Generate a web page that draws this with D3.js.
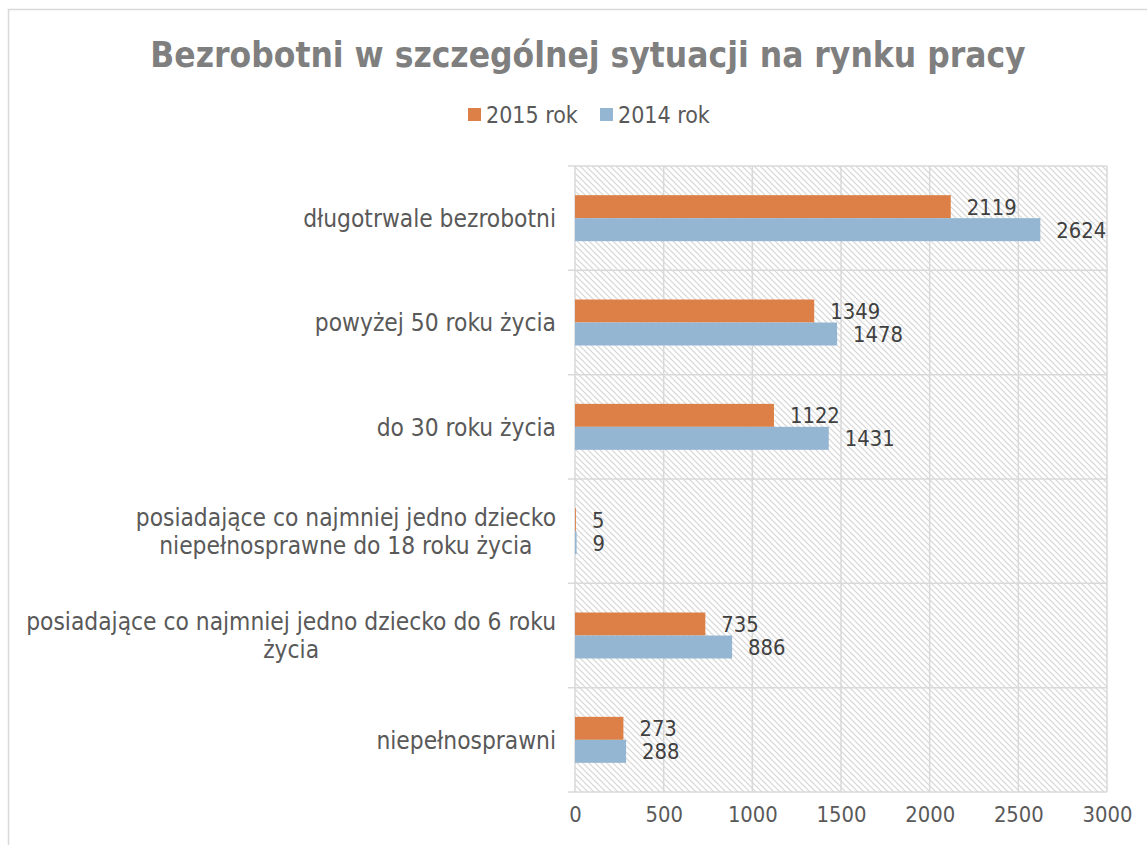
<!DOCTYPE html>
<html>
<head>
<meta charset="utf-8">
<script src="https://cdn.jsdelivr.net/npm/d3@7"></script>
<style>
  html, body { margin: 0; padding: 0; background: #fff; }
  svg { display: block; }
  text { font-family: "DejaVu Sans Condensed", "DejaVu Sans", sans-serif; font-stretch: condensed; }
</style>
</head>
<body>
<svg id="chart" width="1147" height="845"></svg>
<script>
const title = "Bezrobotni w szczególnej sytuacji na rynku pracy";
const categories = [
  ["długotrwale bezrobotni"],
  ["powyżej 50 roku życia"],
  ["do 30 roku życia"],
  ["posiadające co najmniej jedno dziecko", "niepełnosprawne do 18 roku życia"],
  ["posiadające co najmniej jedno dziecko do 6 roku", "życia"],
  ["niepełnosprawni"]
];
const seriesNames = ["2015 rok", "2014 rok"];
const values2015 = [2119, 1349, 1122, 5, 735, 273];
const values2014 = [2624, 1478, 1431, 9, 886, 288];
const xTicks = [0, 500, 1000, 1500, 2000, 2500, 3000];
const colors = ["#DD8047", "#94B6D2"];

const svg = d3.select("#chart");
const W = 1147, H = 845;
const plot = { left: 575, right: 1107, top: 166, bottom: 792 };
const catFont = 24.3, numFont = 21.8, legFont = 23;

// outer frame
svg.append("rect").attr("x", 8.5).attr("y", 9.5).attr("width", W + 20).attr("height", H + 20)
  .attr("fill", "#fff").attr("stroke", "#d9d9d9").attr("stroke-width", 1.5);

// hatch pattern
const defs = svg.append("defs");
const pat = defs.append("pattern").attr("id", "hatch").attr("patternUnits", "userSpaceOnUse")
  .attr("width", 6).attr("height", 6);
pat.append("rect").attr("width", 6).attr("height", 6).attr("fill", "#fff");
pat.append("path").attr("d", "M-1,-1 L7,7 M-1,5 L1,7 M5,-1 L7,1")
  .attr("stroke", "#d6d6d6").attr("stroke-width", 1.2);

const catKeys = categories.map((c, i) => i);
const y = d3.scaleBand().domain(catKeys).range([plot.top, plot.bottom]).padding(0);
const x = d3.scaleLinear().domain([0, 3000]).range([plot.left, plot.right]);
const bw = y.bandwidth();
const ySub = d3.scaleBand().domain(seriesNames).range([bw / 2 - 23, bw / 2 + 23]).padding(0);

svg.append("rect").attr("x", plot.left).attr("y", plot.top)
  .attr("width", plot.right - plot.left).attr("height", plot.bottom - plot.top)
  .attr("fill", "url(#hatch)");

// vertical gridlines
svg.append("g").selectAll("line").data(xTicks).join("line")
  .attr("x1", d => x(d)).attr("x2", d => x(d))
  .attr("y1", plot.top).attr("y2", plot.bottom)
  .attr("stroke", "#d9d9d9").attr("stroke-width", 1.5);

// horizontal category separators (with ticks extending left)
const seps = catKeys.map(k => y(k)).concat([plot.bottom]);
svg.append("g").selectAll("line").data(seps).join("line")
  .attr("x1", plot.left - 7).attr("x2", plot.right)
  .attr("y1", d => d).attr("y2", d => d)
  .attr("stroke", "#d9d9d9").attr("stroke-width", 1.5);

// x axis tick labels
const xAxis = d3.axisBottom(x).tickValues(xTicks).tickSize(0).tickPadding(0).tickFormat(d3.format("d"));
const gx = svg.append("g").attr("transform", `translate(0,${plot.bottom + 15})`).call(xAxis);
gx.select(".domain").remove();
gx.selectAll("text").attr("font-size", numFont).attr("fill", "#595959")
  .attr("dy", "0.71em")
  .style("font-family", '"DejaVu Sans Condensed", "DejaVu Sans", sans-serif');

// bars
const data = catKeys.map(i => ({ i, vals: [values2015[i], values2014[i]] }));
const groups = svg.append("g").selectAll("g").data(data).join("g")
  .attr("transform", d => `translate(0,${y(d.i)})`);
groups.selectAll("rect").data(d => d.vals.map((v, j) => ({ v, s: seriesNames[j], j }))).join("rect")
  .attr("x", x(0)).attr("y", d => ySub(d.s))
  .attr("width", d => x(d.v) - x(0)).attr("height", ySub.bandwidth())
  .attr("fill", d => colors[d.j]);
groups.selectAll("text").data(d => d.vals.map((v, j) => ({ v, s: seriesNames[j], j }))).join("text")
  .attr("x", d => x(d.v) + 16).attr("y", d => ySub(d.s) + ySub.bandwidth() / 2)
  .attr("dy", "0.36em").attr("font-size", numFont).attr("fill", "#404040")
  .text(d => d.v);

// category labels
const labelX = 556;
categories.forEach((lines, i) => {
  const cy = y(i) + bw / 2;
  const lh = 28;
  const g = svg.append("text").attr("font-size", catFont).attr("fill", "#595959");
  if (lines.length === 1) {
    g.attr("x", labelX).attr("y", cy).attr("dy", "0.36em").attr("text-anchor", "end").text(lines[0]);
  } else {
    const tmp = svg.append("text").attr("font-size", catFont).text(lines.reduce((a, b) => a.length > b.length ? a : b));
    const wMax = tmp.node().getComputedTextLength();
    tmp.remove();
    const cx = labelX - wMax / 2;
    lines.forEach((ln, k) => {
      g.append("tspan").attr("x", cx).attr("text-anchor", "middle")
        .attr("y", cy + (k - (lines.length - 1) / 2) * lh).attr("dy", "0.36em").text(ln);
    });
  }
});

// title
svg.append("text").attr("x", 588).attr("y", 67).attr("text-anchor", "middle")
  .attr("font-size", 35).attr("font-weight", "bold").attr("fill", "#7f7f7f").text(title);

// legend
const legend = svg.append("g").attr("transform", "translate(468,108)");
const legX = [0, 132];
seriesNames.forEach((s, j) => {
  const lg = legend.append("g").attr("transform", `translate(${legX[j]},0)`);
  lg.append("rect").attr("width", 13).attr("height", 13).attr("fill", colors[j]);
  lg.append("text").attr("x", 18).attr("y", 6.5).attr("dy", "0.36em")
    .attr("font-size", legFont).attr("fill", "#595959").text(s);
});
</script>
</body>
</html>
